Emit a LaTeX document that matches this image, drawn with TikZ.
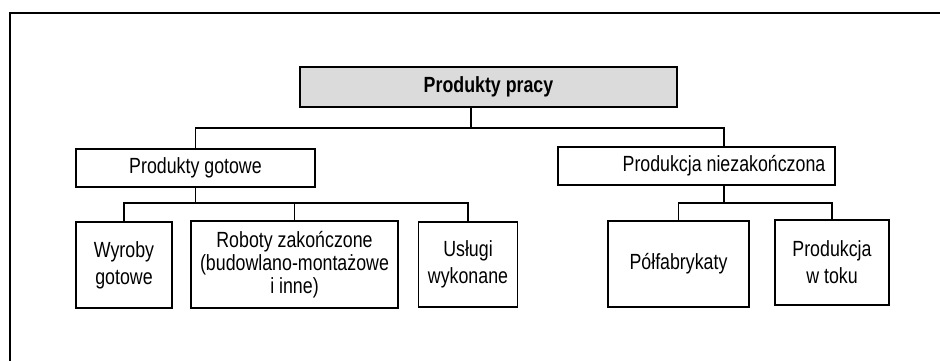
\documentclass[tikz,border=0pt]{standalone}
\usepackage{fontspec}
\setmainfont{Liberation Sans}[FakeStretch=0.81]
\usetikzlibrary{positioning}

\tikzset{
    box/.style={draw, line width=0.8pt, align=center, inner sep=2pt,
        font=\fontsize{12.5}{13}\selectfont},
    box2/.style={box, font=\fontsize{12.5}{15.3}\selectfont},
    topbox/.style={box, fill=black!14, font=\fontsize{12.5}{13}\selectfont\bfseries},
    link/.style={line width=0.7pt}
}

\begin{document}
\begin{tikzpicture}[x=0.02cm, y=-0.02cm]
    \useasboundingbox (0,0) rectangle (940,360);

    % ramka
    \draw[line width=0.8pt] (10,362) -- (10,13) -- (942,13);

    % poziom 1
    \node[topbox, minimum width=7.54cm, minimum height=0.8cm] (praca) at (488.5,87) {Produkty pracy};

    % poziom 2
    \node[box, minimum width=4.78cm, minimum height=0.76cm] (gotowe) at (195.5,168) {Produkty gotowe};
    \node[box, minimum width=5.54cm, minimum height=0.76cm] (niezak) at (696.5,166)
        {\hspace*{1.1cm}Produkcja niezakończona};

    % poziom 3
    \node[box2, minimum width=1.92cm, minimum height=1.72cm] (wyroby) at (124,265) {Wyroby\\gotowe};
    \node[box, minimum width=4.14cm, minimum height=1.74cm] (roboty) at (294.5,264.5) {Roboty zakończone\\(budowlano-montażowe\\i inne)};
    \node[box2, minimum width=1.98cm, minimum height=1.7cm] (uslugi) at (468,264.5) {Usługi\\wykonane};
    \node[box, minimum width=2.82cm, minimum height=1.72cm] (polfab) at (678.5,264) {Półfabrykaty};
    \node[box2, minimum width=2.28cm, minimum height=1.7cm] (wtoku) at (832,262.5) {Produkcja\\w toku};

    % szyny
    \coordinate (szyna1) at (471,128);
    \coordinate (szyna1r) at (724,128);
    \coordinate (szyna2) at (195.5,203);
    \coordinate (szyna3) at (724,203);

    % połączenia
    \draw[link] (szyna1 |- praca.south) -- (szyna1);
    \draw[link] (gotowe.north) |- (szyna1) -| (szyna1r |- niezak.north);
    \draw[link] (gotowe.south) -- (szyna2);
    \draw[link] (wyroby.north) |- (szyna2) -| (uslugi.north);
    \draw[link] (roboty.north) -- (roboty.north |- szyna2);
    \draw[link] (szyna3 |- niezak.south) -- (szyna3);
    \draw[link] (polfab.north) |- (szyna3) -| (wtoku.north);
\end{tikzpicture}
\end{document}
